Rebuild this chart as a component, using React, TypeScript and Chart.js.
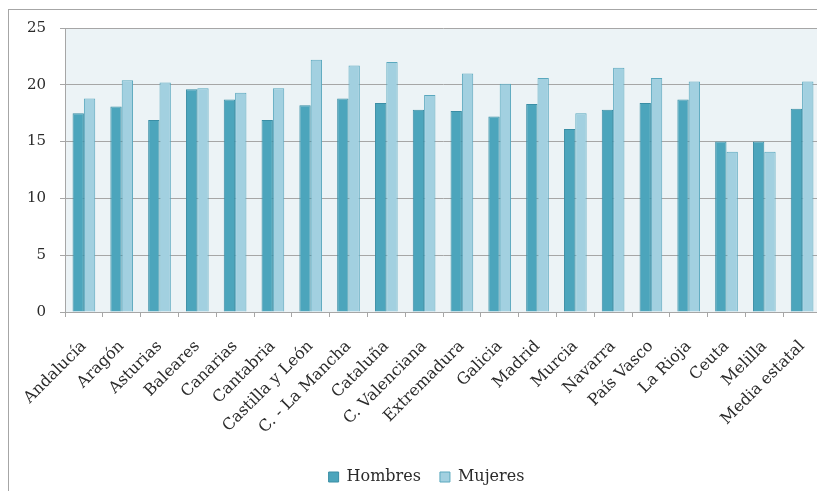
import React, { useEffect, useRef } from "react";
import { Chart, registerables } from "chart.js";

Chart.register(...registerables);

// Comunidades autónomas y media estatal
const regions: string[] = [
  "Andalucía",
  "Aragón",
  "Asturias",
  "Baleares",
  "Canarias",
  "Cantabria",
  "Castilla y León",
  "C. - La Mancha",
  "Cataluña",
  "C. Valenciana",
  "Extremadura",
  "Galicia",
  "Madrid",
  "Murcia",
  "Navarra",
  "País Vasco",
  "La Rioja",
  "Ceuta",
  "Melilla",
  "Media estatal",
];

const hombres: number[] = [
  17.5, 18.1, 16.9, 19.6, 18.7, 16.9, 18.2, 18.8, 18.4, 17.8,
  17.7, 17.2, 18.3, 16.1, 17.8, 18.4, 18.7, 15.0, 15.0, 17.9,
];

const mujeres: number[] = [
  18.8, 20.4, 20.2, 19.7, 19.3, 19.7, 22.2, 21.7, 22.0, 19.1,
  21.0, 20.1, 20.6, 17.5, 21.5, 20.6, 20.3, 14.1, 14.1, 20.3,
];

const yTicks: number[] = [0, 5, 10, 15, 20, 25];

const FONT = "'DejaVu Serif', 'Liberation Serif', serif";
const TEXT = "#2b2b2b";
const GRID = "#a6a6a6";

// Paints the light plot-area background behind the bars
const plotBackground = {
  id: "plotBackground",
  beforeDraw(chart: Chart) {
    const { ctx, chartArea } = chart;
    if (!chartArea) return;
    ctx.save();
    ctx.fillStyle = "#ecf3f6";
    ctx.fillRect(
      chartArea.left,
      chartArea.top,
      chartArea.right - chartArea.left,
      chartArea.bottom - chartArea.top
    );
    ctx.restore();
  },
};

// Nudges the legend so it sits centred under the visible frame
const legendShift = {
  id: "legendShift",
  afterLayout(chart: any) {
    const legend = chart.legend;
    if (!legend) return;
    legend.left += 11.5;
    legend.right += 11.5;
  },
};

export default function App() {
  const canvasRef = useRef<HTMLCanvasElement | null>(null);

  useEffect(() => {
    if (!canvasRef.current) return;
    const chart = new Chart(canvasRef.current, {
      type: "bar",
      data: {
        labels: regions,
        datasets: [
          {
            label: "Hombres",
            data: hombres,
            backgroundColor: "#4ca5bc",
            borderColor: "#3a8ea5",
            borderWidth: 1,
            categoryPercentage: 0.6,
            barPercentage: 1.0,
          },
          {
            label: "Mujeres",
            data: mujeres,
            backgroundColor: "#a2d0e0",
            borderColor: "#5aa8be",
            borderWidth: 1,
            categoryPercentage: 0.6,
            barPercentage: 1.0,
          },
        ],
      },
      options: {
        responsive: false,
        animation: false,
        events: [],
        layout: {
          padding: { top: 18, right: 18, bottom: 13, left: 0 },
        },
        plugins: {
          tooltip: { enabled: false },
          legend: {
            position: "bottom",
            labels: {
              boxWidth: 10,
              boxHeight: 10,
              padding: 19,
              color: TEXT,
              font: { family: FONT, size: 16 },
            },
          },
        },
        scales: {
          x: {
            grid: {
              drawOnChartArea: false,
              drawTicks: true,
              tickLength: 5,
              color: GRID,
              offset: true,
            },
            border: { display: true, color: GRID, width: 1 },
            ticks: {
              minRotation: 45,
              maxRotation: 45,
              autoSkip: false,
              padding: 20,
              color: TEXT,
              font: { family: FONT, size: 16 },
            },
            afterFit(scale: any) {
              scale.height = 138;
              scale.paddingLeft = 0;
              scale.paddingRight = 0;
            },
          },
          y: {
            min: 0,
            max: 25,
            afterBuildTicks(scale: any) {
              scale.ticks = yTicks.map((v) => ({ value: v }));
            },
            grid: {
              color: GRID,
              lineWidth: 1,
              tickLength: 5,
            },
            border: { display: true, color: GRID, width: 1 },
            ticks: {
              padding: 14,
              color: TEXT,
              font: { family: FONT, size: 15 },
            },
            afterFit(scale: any) {
              scale.width = 56;
              scale.paddingTop = 9;
              scale.paddingBottom = 9;
            },
          },
        },
      },
      plugins: [plotBackground, legendShift],
    });
    return () => chart.destroy();
  }, []);

  return (
    <div
      style={{
        position: "fixed",
        left: 0,
        top: 0,
        width: 817,
        height: 491,
        overflow: "hidden",
        background: "#ffffff",
      }}
    >
      <div
        style={{
          position: "absolute",
          left: 8,
          top: 9,
          width: 840,
          height: 500,
          border: "1px solid #a6a6a6",
          boxSizing: "border-box",
        }}
      >
        <canvas
          ref={canvasRef}
          width={830}
          height={498}
          style={{ display: "block", width: 830, height: 498 }}
        />
      </div>
    </div>
  );
}
